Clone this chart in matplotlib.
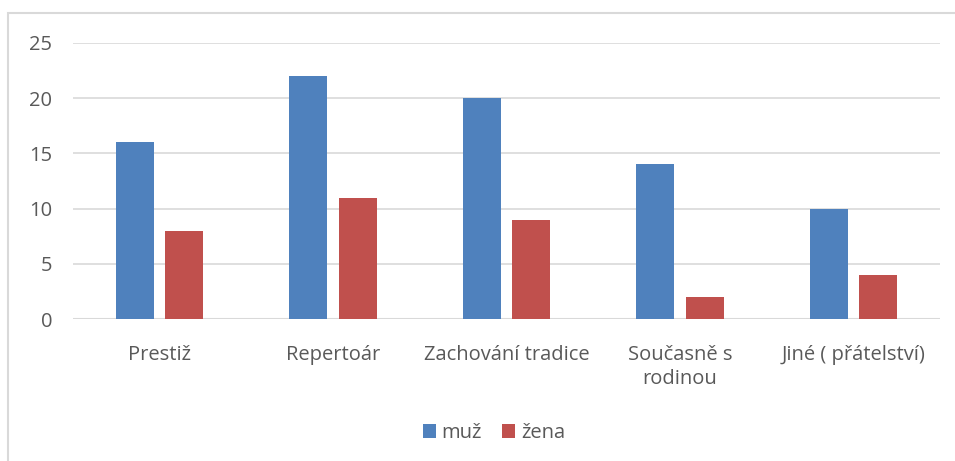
import matplotlib.pyplot as plt
import numpy as np
from matplotlib.patches import Rectangle

categories = ["Prestiž", "Repertoár", "Zachování tradice", "Současně s\nrodinou", "Jiné ( přátelství)"]
muz = [16, 22, 20, 14, 10]
zena = [8, 11, 9, 2, 4]

blue = "#4F81BD"
red = "#C0504D"
text_color = "#595959"
grid_color = "#D9D9D9"

plt.rcParams['font.family'] = ['Open Sans', 'DejaVu Sans']

fig = plt.figure(figsize=(9.55, 4.61), dpi=100)
W, H = 955, 461
ax = fig.add_axes([73 / W, 1 - 319 / H, (940 - 73) / W, (319 - 43) / H])

x = np.arange(len(categories))
bw = 0.219
off = 0.142
ax.bar(x - off, muz, bw, color=blue, label="muž")
ax.bar(x + off, zena, bw, color=red, label="žena")

ax.set_xlim(-0.5, len(categories) - 0.5)
ax.set_ylim(0, 25)
ax.set_yticks(range(0, 26, 5))
ax.yaxis.grid(True, color=grid_color, linewidth=1.2)
ax.set_axisbelow(True)
for s in ax.spines.values():
    s.set_visible(False)
ax.axhline(0, color=grid_color, linewidth=1.5, zorder=0)
ax.tick_params(length=0, labelsize=14.5, colors=text_color)
ax.tick_params(axis='y', pad=15)
ax.tick_params(axis='x', pad=19)
ax.set_xticks(x)
ax.set_xticklabels(categories, va='top', linespacing=1.25)

leg = fig.legend(loc='center', bbox_to_anchor=(494 / W, 1 - 433 / H), ncol=2,
                 frameon=False, fontsize=14.5, handlelength=0.65, handleheight=0.65,
                 handletextpad=0.3, columnspacing=1.0)
for t in leg.get_texts():
    t.set_color(text_color)

# chart frame
fig.patches.append(Rectangle((8 / W, -0.1), 1.1, 1 - 13 / H + 0.1, transform=fig.transFigure,
                             fill=False, edgecolor=grid_color, linewidth=1.5))

fig.savefig("out.png", dpi=100)
